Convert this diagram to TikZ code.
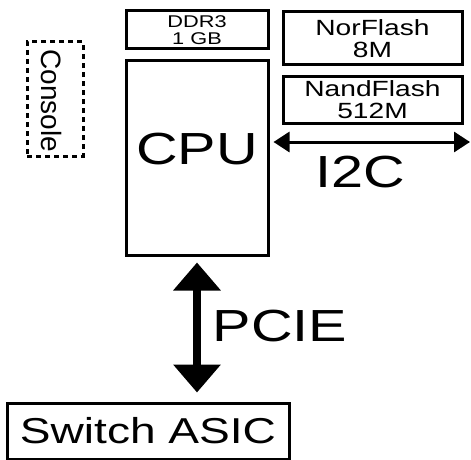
\documentclass[tikz,border=0pt]{standalone}
\usepackage{fontspec}
\setmainfont{Liberation Sans}[FakeStretch=1.28]
\newfontfamily\consolefont{Liberation Sans}
\usetikzlibrary{arrows.meta}

\begin{document}
\begin{tikzpicture}[
        x=1pt, y=-1pt,
        box/.style={
          draw,
          line width=3pt,
          inner sep=0pt,
          align=center
        },
        smallbox/.style={
          box,
          font=\fontsize{17}{17}\selectfont
        },
        flashbox/.style={
          box,
          minimum width=179pt,
          font=\fontsize{22}{22}\selectfont
        },
        biglabel/.style={
          inner sep=0pt,
          font=\fontsize{45}{45}\selectfont
        },
        i2carrow/.style={
          {Triangle[length=16pt,width=20pt]}-{Triangle[length=16pt,width=20pt]},
          line width=3pt
        },
        pciearrow/.style={
          {Triangle[length=28pt,width=46pt]}-{Triangle[length=28pt,width=46pt]},
          line width=8pt
        }
      ]

      \useasboundingbox (0,0) rectangle (471,460);

      \node[smallbox, minimum width=142pt, minimum height=38pt] (ddr) at (197,30) {DDR3\\1 GB};
      \node[box, minimum width=142pt, minimum height=194pt, text depth=18pt,
            font=\fontsize{45}{45}\selectfont] (cpu) at (197,158) {CPU};
      \node[flashbox, minimum height=53pt] (norflash) at (372.5,38.5) {NorFlash\\8M};
      \node[flashbox, minimum height=47pt] (nandflash) at (372.5,99.5) {NandFlash\\512M};
      \node[box, dash pattern=on 5pt off 4pt, minimum width=56pt, minimum height=114pt] (console) at (55,99) {};
      \node[rotate=-90, inner sep=0pt, font=\consolefont\fontsize{28}{28}\selectfont] (consoletext) at (52,101) {Console};
      \node[box, minimum width=282pt, minimum height=56pt, font=\fontsize{36}{36}\selectfont] (asic) at (148,431) {Switch ASIC};

      \coordinate (i2cend) at (470,142);
      \draw[i2carrow, shorten <=4pt] (cpu.east |- i2cend) -- (i2cend);
      \node[biglabel] (i2c) at (360,172) {I2C};

      \draw[pciearrow, shorten <=6pt, shorten >=9pt] (cpu.south) -- (cpu.south |- asic.north);
      \node[biglabel] (pcie) at (280,326) {PCIE};

      \end{tikzpicture}
\end{document}
